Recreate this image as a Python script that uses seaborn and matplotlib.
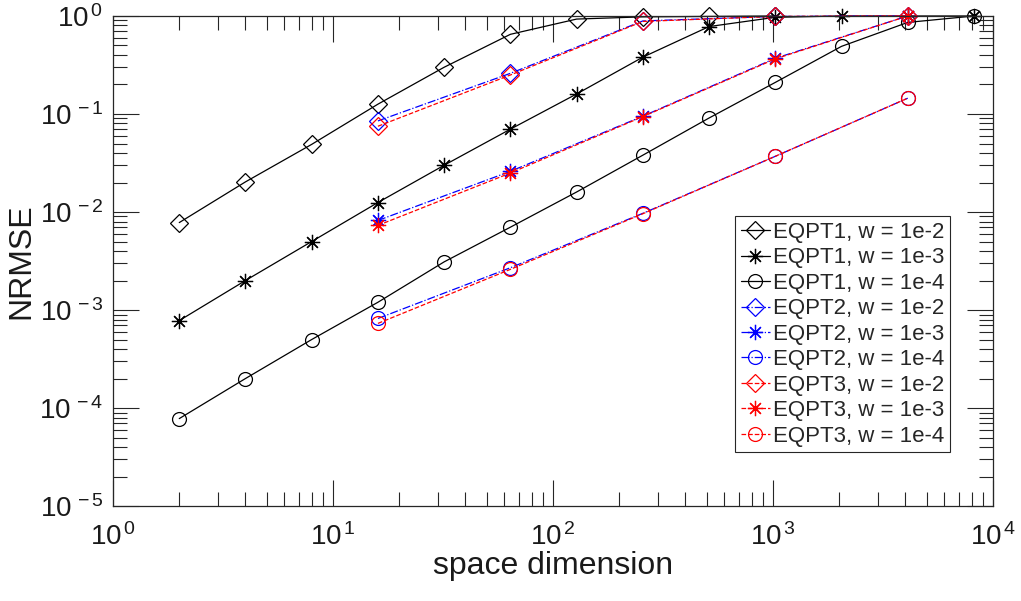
import numpy as np
import pandas as pd
import matplotlib
matplotlib.use("Agg")
import matplotlib.pyplot as plt
import seaborn as sns
from matplotlib.ticker import LogLocator, NullFormatter, FuncFormatter

# ---- data ----
x_eqpt1 = [2, 4, 8, 16, 32, 64, 128, 256, 512, 1024, 2048, 4096, 8192]
x_eqpt23 = [16, 64, 256, 1024, 4096]

eqpt1_w2 = [0.0078, 0.0203, 0.049, 0.126, 0.30, 0.65, 0.93, 0.98, 0.99, 1.0]
eqpt1_w3 = [0.00078, 0.0020, 0.0050, 0.0125, 0.030, 0.070, 0.16, 0.38, 0.78, 0.97, 1.0, 1.0, 1.0]
eqpt1_w4 = [7.8e-5, 2.0e-4, 5.0e-4, 1.2e-3, 3.1e-3, 7.0e-3, 0.016, 0.038, 0.091, 0.21, 0.49, 0.86, 1.0]

eqpt2_w2 = [0.085, 0.26, 0.89, 0.99, 1.0]
eqpt2_w3 = [0.0082, 0.026, 0.095, 0.37, 1.0]
eqpt2_w4 = [8.2e-4, 2.7e-3, 9.7e-3, 0.037, 0.145]

eqpt3_w2 = [0.075, 0.25, 0.88, 0.99, 1.0]
eqpt3_w3 = [0.0073, 0.025, 0.094, 0.365, 1.0]
eqpt3_w4 = [7.3e-4, 2.6e-3, 9.6e-3, 0.037, 0.145]

labels = [
    "EQPT1, w = 1e-2", "EQPT1, w = 1e-3", "EQPT1, w = 1e-4",
    "EQPT2, w = 1e-2", "EQPT2, w = 1e-3", "EQPT2, w = 1e-4",
    "EQPT3, w = 1e-2", "EQPT3, w = 1e-3", "EQPT3, w = 1e-4",
]

series = [
    (x_eqpt1[:len(eqpt1_w2)], eqpt1_w2), (x_eqpt1, eqpt1_w3), (x_eqpt1, eqpt1_w4),
    (x_eqpt23, eqpt2_w2), (x_eqpt23, eqpt2_w3), (x_eqpt23, eqpt2_w4),
    (x_eqpt23, eqpt3_w2), (x_eqpt23, eqpt3_w3), (x_eqpt23, eqpt3_w4),
]

# ---- style ----
sns.set_style("ticks")
plt.rcParams["font.family"] = ["Liberation Sans", "DejaVu Sans"]
plt.rcParams["mathtext.fontset"] = "custom"
plt.rcParams["mathtext.rm"] = "Liberation Sans"
plt.rcParams["mathtext.it"] = "Liberation Sans"
plt.rcParams["mathtext.default"] = "regular"

colors = ["black"] * 3 + ["#0000ff"] * 3 + ["#ff0000"] * 3
linestyles = ["-"] * 3 + ["-."] * 3 + ["--"] * 3
asterisk = (8, 2, 0)
markers = ["D", asterisk, "o"] * 3
msizes = [9, 11, 10] * 3

fig = plt.figure(figsize=(10.21, 6.01), dpi=100)
ax = fig.add_axes([0.1107, 0.158, 0.8619, 0.8154])

for (xs, ys), lab, c, ls, m, ms in zip(series, labels, colors, linestyles, markers, msizes):
    df = pd.DataFrame({"x": xs, "y": ys})
    sns.lineplot(data=df, x="x", y="y", ax=ax, color=c, linestyle=ls, linewidth=0.9,
                 marker=m, markersize=ms, markerfacecolor="none", markeredgecolor=c,
                 markeredgewidth=0.9, label=lab, clip_on=False)

ax.set_xscale("log")
ax.set_yscale("log")
ax.set_xlim(1, 1e4)
ax.set_ylim(1e-5, 1)
ax.xaxis.set_major_locator(LogLocator(base=10, numticks=10))
ax.yaxis.set_major_locator(LogLocator(base=10, numticks=10))
ax.xaxis.set_minor_locator(LogLocator(base=10, subs=np.arange(2, 10), numticks=20))
ax.yaxis.set_minor_locator(LogLocator(base=10, subs=np.arange(2, 10), numticks=20))
ax.xaxis.set_minor_formatter(NullFormatter())
ax.yaxis.set_minor_formatter(NullFormatter())

def pow_fmt(v, pos):
    e = int(round(np.log10(v)))
    return r"$10^{\,%d}$" % e

ax.xaxis.set_major_formatter(FuncFormatter(pow_fmt))
ax.yaxis.set_major_formatter(FuncFormatter(pow_fmt))

axcol = "#262626"
for sp in ax.spines.values():
    sp.set_visible(True)
    sp.set_color(axcol)
    sp.set_linewidth(0.9)
ax.tick_params(which="both", direction="in", top=True, right=True, colors=axcol,
               labelcolor="#1a1a1a")
ax.tick_params(which="major", length=19, width=0.8, labelsize=20)
ax.tick_params(axis="x", which="major", pad=12)
ax.tick_params(axis="y", which="major", pad=7)
ax.tick_params(which="minor", length=10, width=0.8)

ax.set_xlabel("space dimension", fontsize=23, color="#1a1a1a", labelpad=0)
ax.set_ylabel("NRMSE", fontsize=23, color="#1a1a1a", labelpad=2)

leg = ax.legend(loc="lower right", bbox_to_anchor=(0.951, 0.110), fontsize=16,
                frameon=True, fancybox=False, edgecolor=axcol, framealpha=1,
                handlelength=1.3, handletextpad=0.15, borderpad=0.25,
                labelspacing=0.2, borderaxespad=0)
leg.get_frame().set_linewidth(0.8)

fig.savefig("out.png", dpi=100)
